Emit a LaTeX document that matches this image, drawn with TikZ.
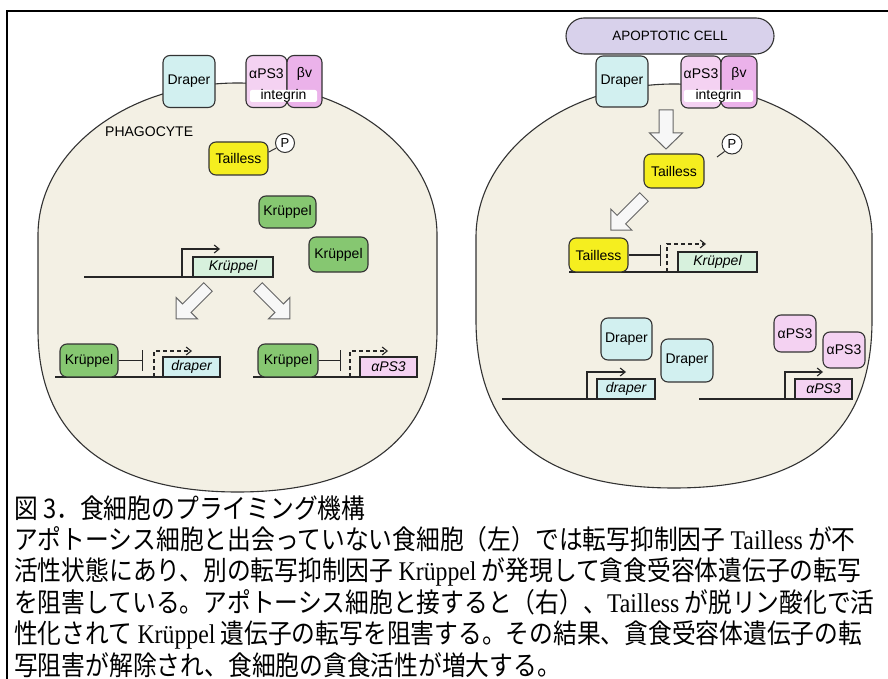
\documentclass[tikz,border=0pt]{standalone}
\usepackage{fontspec}
\setmainfont{Liberation Sans}
\newfontfamily\jpfont{Noto Sans CJK JP}
\newfontfamily\tmsfont{Liberation Serif}
\usetikzlibrary{arrows.meta}
\definecolor{cellfill}{HTML}{F3F0E4}
\definecolor{cellline}{HTML}{333333}
\definecolor{draperfill}{HTML}{D2F0F0}
\definecolor{alphafill}{HTML}{F4D2F2}
\definecolor{betafill}{HTML}{EBB2EA}
\definecolor{tailfill}{HTML}{F5EE1F}
\definecolor{krfill}{HTML}{86C771}
\definecolor{krgene}{HTML}{D7F1DD}
\definecolor{apofill}{HTML}{D8D1EB}
\definecolor{arrowfill}{HTML}{F7F7F7}
\newcommand{\lblf}{\fontsize{14}{16}\selectfont}
\newcommand{\capf}{\jpfont\fontsize{27}{30}\selectfont}
\newcommand{\capjust}[1]{\scalebox{0.88}[1]{\XeTeXlinebreaklocale "ja"\XeTeXlinebreakskip=0pt plus 3pt minus 1pt\hbox to 984pt{#1}}}
\newcommand{\capplain}[1]{\scalebox{0.88}[1]{\hbox{#1}}}
\tikzset{
  prot/.style={draw=cellline, line width=1.1pt, rounded corners=7pt, font=\lblf, inner sep=0pt},
  gene/.style={draw=black!85, line width=1.1pt, inner sep=0pt, font=\lblf\itshape},
  dna/.style={line width=1.4pt, black!85},
  prom/.style={line width=1.1pt, black!85, -{Straight Barb[length=5pt,width=8pt]}},
  promd/.style={prom, dash pattern=on 4pt off 3pt},
  inhib/.style={line width=1.4pt, black!85, -{Bar[width=21pt]}},
  lbltext/.style={font=\lblf, inner sep=0pt},
  cellbody/.style={draw=cellline, fill=cellfill, line width=1.1pt},
  captext/.style={font=\capf, inner sep=0pt, anchor=base west},
  pcircle/.style={circle, draw=cellline, fill=white, line width=1pt, minimum size=19pt, inner sep=0pt, font=\fontsize{13}{13}\selectfont},
  strip/.style={fill=white, rounded corners=2pt, minimum width=67pt, minimum height=12pt, text height=9pt, text depth=2pt, inner sep=0pt, font=\lblf},
  pics/barrow/.style args={#1/#2/#3/#4}{code={
    \draw[draw=black!60, fill=arrowfill, line width=1pt, line join=miter]
      (0,-#2) -- (#1-#4,-#2) -- (#1-#4,-#3) -- (#1,0) -- (#1-#4,#3) -- (#1-#4,#2) -- (0,#2) -- cycle;}}
}
\begin{document}
\begin{tikzpicture}[x=1pt,y=-1pt]
\useasboundingbox (0,0) rectangle (888,679);
\fill[white] (0,0) rectangle (888,679);
% frame
\draw[line width=2pt] (7,700) -- (7,11) -- (900,11);

% ---------- left cell ----------
\draw[cellbody] (38,330) -- (38,235) .. controls (38,151) and (127,83) .. (237.5,83)
  .. controls (348,83) and (437,151) .. (437,235) -- (437,330)
  .. controls (437,445) and (355,492) .. (237.5,492)
  .. controls (120,492) and (38,445) .. (38,330) -- cycle;
\node[lbltext, anchor=west] (phago) at (105,132) {PHAGOCYTE};

% membrane proteins
\node[prot, fill=draperfill, minimum width=52pt, minimum height=52pt] (drL) at (189,81.5) {Draper};
\node[prot, fill=alphafill, minimum width=41pt, minimum height=52pt] (alL) at (266.5,81.5) {};
\node[prot, fill=betafill, minimum width=35pt, minimum height=52pt] (beL) at (304.5,81.5) {};
\node[strip] (inL) at (283.5,96) {integrin};
\node[lbltext] (alLt) at (266.5,74) {αPS3};
\node[lbltext] (beLt) at (304.5,74) {βv};

% Tailless + P
\node[prot, fill=tailfill, minimum width=59pt, minimum height=33pt] (tlL) at (238.5,158.5) {Tailless};
\node[pcircle] (pL) at (285,143) {P};
\draw[line width=1pt, cellline] (tlL.12) -- (pL.210);

% Kruppel proteins
\node[prot, fill=krfill, minimum width=57pt, minimum height=32pt] (kr1) at (287.5,212) {Krüppel};
\node[prot, fill=krfill, minimum width=59pt, minimum height=35pt] (kr2) at (338.5,254.5) {Krüppel};

% Kruppel gene
\coordinate (dnaA1) at (84,277);
\coordinate (dnaA2) at (273,277);
\draw[dna] (dnaA1) -- (dnaA2);
\coordinate (promA) at (182,277);
\coordinate (promAe) at (220,249);
\draw[prom] (promA) |- (promAe);
\node[gene, fill=krgene, minimum width=80pt, minimum height=20pt] (krgL) at (233,267) {Krüppel};

% block arrows
\pic[rotate=225] at (208,287) {barrow=45/6/15/15};
\pic[rotate=-45] at (258,287) {barrow=45/6/15/15};

% lower left: draper repressed
\coordinate (dnaB1) at (55,377);
\coordinate (dnaB2) at (220,377);
\draw[dna] (dnaB1) -- (dnaB2);
\node[prot, fill=krfill, minimum width=58pt, minimum height=33pt] (kr3) at (89,360.5) {Krüppel};
\coordinate (inhB) at (143,360.5);
\draw[inhib] (kr3.east) -- (inhB);
\coordinate (promB) at (154,377);
\coordinate (promBe) at (192,351);
\draw[promd] (promB) |- (promBe);
\node[gene, fill=draperfill, minimum width=57pt, minimum height=20pt] (drgL) at (191.5,367) {draper};

% lower right: aPS3 repressed
\coordinate (dnaC1) at (253,377);
\coordinate (dnaC2) at (417,377);
\draw[dna] (dnaC1) -- (dnaC2);
\node[prot, fill=krfill, minimum width=60pt, minimum height=33pt] (kr4) at (288,360.5) {Krüppel};
\coordinate (inhC) at (341,360.5);
\draw[inhib] (kr4.east) -- (inhC);
\coordinate (promC) at (350,377);
\coordinate (promCe) at (388,351);
\draw[promd] (promC) |- (promCe);
\node[gene, fill=alphafill, minimum width=57pt, minimum height=20pt] (agL) at (388.5,367) {αPS3};

% ---------- right cell ----------
\draw[cellbody] (476,320) -- (476,237) .. controls (476,153) and (565,84) .. (674,84)
  .. controls (783,84) and (872,153) .. (872,237) -- (872,320)
  .. controls (872,447) and (788,488) .. (674,488)
  .. controls (560,488) and (476,447) .. (476,320) -- cycle;

\node[draw=cellline, fill=apofill, line width=1.1pt, rounded corners=18pt, minimum width=208pt, minimum height=36pt, font=\fontsize{13.5}{15}\selectfont, inner sep=0pt] (apo) at (670,36) {APOPTOTIC CELL};

\node[prot, fill=draperfill, minimum width=52pt, minimum height=51pt] (drR) at (622,81.5) {Draper};
\node[prot, fill=alphafill, minimum width=40pt, minimum height=52pt] (alR) at (701,82) {};
\node[prot, fill=betafill, minimum width=36pt, minimum height=52pt] (beR) at (739,82) {};
\node[strip, minimum width=69pt] (inR) at (718.5,96) {integrin};
\node[lbltext] (alRt) at (701,74) {αPS3};
\node[lbltext] (beRt) at (739,74) {βv};

\pic[rotate=-90] at (666,110) {barrow=39/7/16.5/16};

\node[prot, fill=tailfill, minimum width=60pt, minimum height=34pt] (tlR) at (674,171) {Tailless};
\node[pcircle, minimum size=20pt] (pR) at (732,144) {P};
\coordinate (pRt) at (717,157);
\draw[line width=1pt, cellline] (pR.225) -- (pRt);

\pic[rotate=225] at (644,197) {barrow=47/6/15/15};

% Tailless represses Kruppel
\coordinate (dnaD1) at (569,272);
\coordinate (dnaD2) at (757,272);
\draw[dna] (dnaD1) -- (dnaD2);
\node[prot, fill=tailfill, minimum width=59pt, minimum height=34pt] (tl2) at (598.5,255) {Tailless};
\coordinate (inhD) at (661,255);
\draw[inhib] (tl2.east) -- (inhD);
\coordinate (promD) at (667,272);
\coordinate (promDe) at (706,244);
\draw[promd] (promD) |- (promDe);
\node[gene, fill=krgene, minimum width=79pt, minimum height=20pt] (krgR) at (717.5,262) {Krüppel};

% draper expressed
\coordinate (dnaE1) at (502,399);
\coordinate (dnaE2) at (655,399);
\draw[dna] (dnaE1) -- (dnaE2);
\coordinate (promE) at (587,399);
\coordinate (promEe) at (626,372);
\draw[prom] (promE) |- (promEe);
\node[gene, fill=draperfill, minimum width=58pt, minimum height=20pt] (drgR) at (626,389) {draper};
\node[prot, fill=draperfill, minimum width=51pt, minimum height=42pt] (drp1) at (626.5,339) {Draper};
\node[prot, fill=draperfill, minimum width=52pt, minimum height=43pt] (drp2) at (687,360.5) {Draper};

% aPS3 expressed
\coordinate (dnaF1) at (699,399);
\coordinate (dnaF2) at (852,399);
\draw[dna] (dnaF1) -- (dnaF2);
\coordinate (promF) at (785,399);
\coordinate (promFe) at (823,372);
\draw[prom] (promF) |- (promFe);
\node[gene, fill=alphafill, minimum width=57pt, minimum height=20pt] (agR) at (823.5,389) {αPS3};
\node[prot, fill=alphafill, minimum width=42pt, minimum height=37pt] (ap1) at (795,333.5) {αPS3};
\node[prot, fill=alphafill, minimum width=42pt, minimum height=36pt] (ap2) at (844,350) {αPS3};

% ---------- caption ----------
\node[captext] (cap1) at (14,518) {\capplain{図 3．食細胞のプライミング機構}};
\node[captext] (cap2) at (14,549.4) {\capjust{アポトーシス細胞と出会っていない食細胞（左）では転写抑制因子\kern6pt{\tmsfont Tailless}\kern6pt が不}};
\node[captext] (cap3) at (14,580.8) {\capjust{活性状態にあり、別の転写抑制因子\kern6pt{\tmsfont Krüppel}\kern6pt が発現して貪食受容体遺伝子の転写}};
\node[captext] (cap4) at (14,612.2) {\capjust{を阻害している。アポトーシス細胞と接すると（右）、{\tmsfont Tailless}\kern6pt が脱リン酸化で活}};
\node[captext] (cap5) at (14,643.6) {\capjust{性化されて\kern6pt{\tmsfont Krüppel}\kern6pt 遺伝子の転写を阻害する。その結果、貪食受容体遺伝子の転}};
\node[captext] (cap6) at (14,675) {\capplain{写阻害が解除され、食細胞の貪食活性が増大する。}};
\end{tikzpicture}
\end{document}
